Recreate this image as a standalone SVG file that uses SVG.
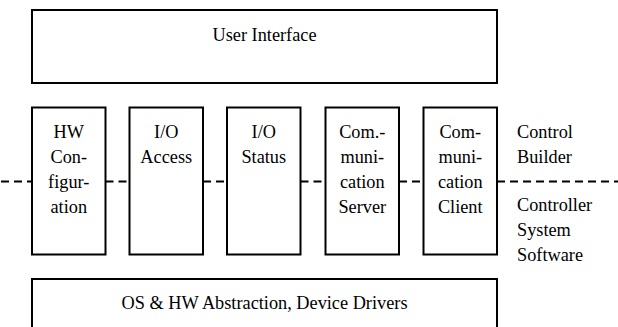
<svg xmlns="http://www.w3.org/2000/svg" width="618" height="327" viewBox="0 0 618 327">
<style>
.box{fill:#fff;stroke:#000;stroke-width:2}
.t{font-family:"Liberation Serif","Times New Roman",serif;font-size:18.3px;fill:#000}
.c{text-anchor:middle}
.dash{stroke:#000;stroke-width:1.8;stroke-dasharray:8,5;fill:none}
</style>
<rect width="618" height="327" fill="#fff"/>
<g id="connectors">
<line class="dash" x1="1" y1="181.5" x2="32" y2="181.5"/>
<line class="dash" x1="105.5" y1="181.5" x2="129.5" y2="181.5"/>
<line class="dash" x1="203" y1="181.5" x2="227" y2="181.5"/>
<line class="dash" x1="300.5" y1="181.5" x2="325.5" y2="181.5"/>
<line class="dash" x1="399" y1="181.5" x2="423.5" y2="181.5"/>
<line class="dash" x1="497" y1="181.5" x2="618" y2="181.5"/>
</g>
<g id="user-interface">
<rect class="box" x="32" y="10" width="465" height="73"/>
<text class="t c" x="264.5" y="41">User Interface</text>
</g>
<g id="hw-configuration">
<rect class="box" x="32" y="107.5" width="73.5" height="147"/>
<text class="t c" x="68.75" y="138">HW</text>
<text class="t c" x="68.75" y="163">Con-</text>
<text class="t c" x="68.75" y="188">figur-</text>
<text class="t c" x="68.75" y="213">ation</text>
</g>
<g id="io-access">
<rect class="box" x="129.5" y="107.5" width="73.5" height="147"/>
<text class="t c" x="166.25" y="138">I/O</text>
<text class="t c" x="166.25" y="163">Access</text>
</g>
<g id="io-status">
<rect class="box" x="227" y="107.5" width="73.5" height="147"/>
<text class="t c" x="263.75" y="138">I/O</text>
<text class="t c" x="263.75" y="163">Status</text>
</g>
<g id="communication-server">
<rect class="box" x="325.5" y="107.5" width="73.5" height="147"/>
<text class="t c" x="362.25" y="138">Com.-</text>
<text class="t c" x="362.25" y="163">muni-</text>
<text class="t c" x="362.25" y="188">cation</text>
<text class="t c" x="362.25" y="213">Server</text>
</g>
<g id="communication-client">
<rect class="box" x="423.5" y="107.5" width="73.5" height="147"/>
<text class="t c" x="460.25" y="138">Com-</text>
<text class="t c" x="460.25" y="163">muni-</text>
<text class="t c" x="460.25" y="188">cation</text>
<text class="t c" x="460.25" y="213">Client</text>
</g>
<g id="control-builder-label">
<text class="t" x="517" y="138">Control</text>
<text class="t" x="517" y="163">Builder</text>
</g>
<g id="controller-system-software-label">
<text class="t" x="517" y="211">Controller</text>
<text class="t" x="517" y="236">System</text>
<text class="t" x="517" y="261">Software</text>
</g>
<g id="os-hw-abstraction">
<rect class="box" x="32" y="279" width="465" height="60"/>
<text class="t c" x="264.5" y="309">OS &amp; HW Abstraction, Device Drivers</text>
</g>
</svg>
